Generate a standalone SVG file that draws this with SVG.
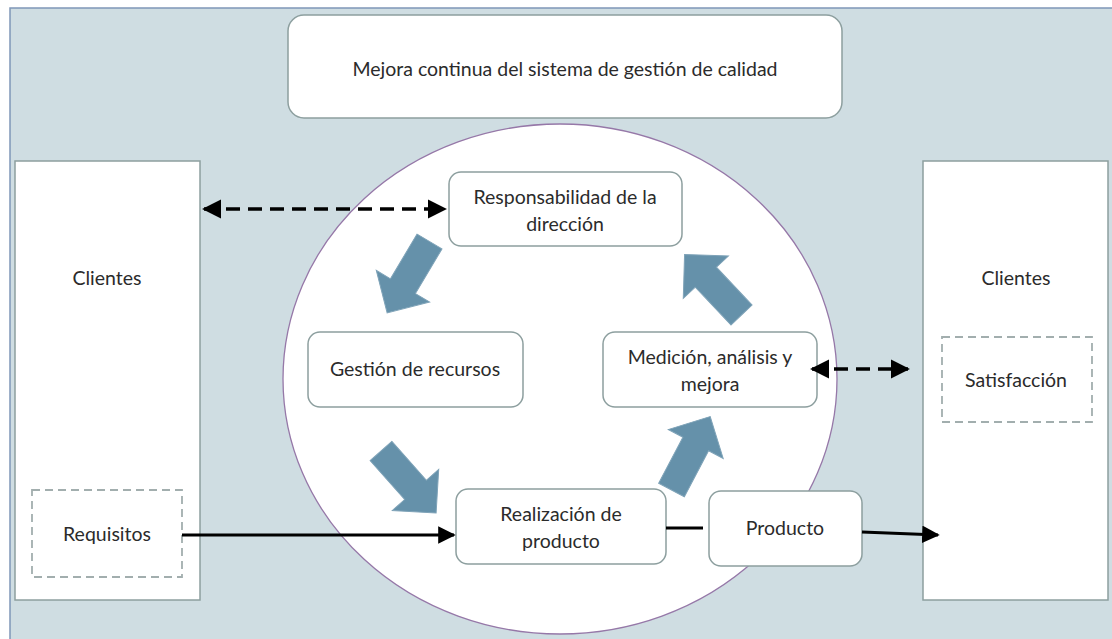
<svg xmlns="http://www.w3.org/2000/svg" width="1112" height="639" viewBox="0 0 1112 639">
<style>
.bg{fill:#cfdde2;stroke:#7f97b8;stroke-width:1.5}
.node{fill:#ffffff;stroke:#8d9f9f;stroke-width:1.5}
.side{fill:#ffffff;stroke:#8d9f9f;stroke-width:1.5}
.dash{fill:#ffffff;stroke:#a2aeae;stroke-width:1.8;stroke-dasharray:8 5}
.t{font-family:Lato,"Liberation Sans",sans-serif;font-size:19.5px;fill:#2b2b2b;text-anchor:middle}
.blk{fill:#6591aa;stroke:#7fa3b8;stroke-width:1}
.ln{fill:none;stroke:#000;stroke-width:3.2}
.dl{fill:none;stroke:#000;stroke-width:3.5;stroke-dasharray:14 8}
</style>
<defs>
<marker id="ah" viewBox="0 0 10 10" refX="9" refY="5" markerWidth="5.5" markerHeight="5.5" orient="auto-start-reverse" markerUnits="strokeWidth">
<path d="M0,0 L10,5 L0,10 Z" fill="#000"/>
</marker>
<path id="barrow" d="M0,-14.5 L52,-14.5 L52,-31 L83,0 L52,31 L52,14.5 L0,14.5 Z"/>
</defs>
<rect class="bg" x="10" y="8" width="1110" height="640"/>
<g id="mejora">
<rect class="node" x="288" y="15" width="554" height="103" rx="16"/>
<text class="t" x="565" y="76">Mejora continua del sistema de gestión de calidad</text>
</g>
<g id="circulo">
<ellipse cx="560" cy="379" rx="277" ry="255" fill="#ffffff" stroke="#9678a8" stroke-width="1.3"/>
</g>
<g id="clientes-izq">
<rect class="side" x="15" y="161" width="185" height="439"/>
<text class="t" x="107" y="285">Clientes</text>
</g>
<g id="requisitos">
<rect class="dash" x="32" y="490" width="150" height="87"/>
<text class="t" x="107" y="541">Requisitos</text>
</g>
<g id="clientes-der">
<rect class="side" x="923" y="161" width="185" height="439"/>
<text class="t" x="1016" y="285">Clientes</text>
</g>
<g id="satisfaccion">
<rect class="dash" x="942" y="337" width="150" height="85"/>
<text class="t" x="1016" y="387">Satisfacción</text>
</g>
<g id="responsabilidad">
<rect class="node" x="449" y="172" width="233" height="74" rx="12"/>
<text class="t" x="565" y="204">Responsabilidad de la</text>
<text class="t" x="565" y="231">dirección</text>
</g>
<g id="gestion">
<rect class="node" x="308" y="332" width="215" height="75" rx="12"/>
<text class="t" x="415" y="376">Gestión de recursos</text>
</g>
<g id="medicion">
<rect class="node" x="603" y="332" width="214" height="75" rx="12"/>
<text class="t" x="710" y="364">Medición, análisis y</text>
<text class="t" x="710" y="391">mejora</text>
</g>
<g id="realizacion">
<rect class="node" x="456" y="489" width="210" height="75" rx="12"/>
<text class="t" x="561" y="521">Realización de</text>
<text class="t" x="561" y="548">producto</text>
</g>
<g id="producto">
<rect class="node" x="709" y="491" width="153" height="75" rx="12"/>
<text class="t" x="785" y="535">Producto</text>
</g>
<g id="conectores">
<line class="dl" x1="204" y1="209" x2="445" y2="209" marker-start="url(#ah)" marker-end="url(#ah)"/>
<line class="dl" x1="812" y1="369" x2="908" y2="369" marker-start="url(#ah)" marker-end="url(#ah)"/>
<line class="ln" x1="182" y1="535" x2="454" y2="535" marker-end="url(#ah)"/>
<line class="ln" x1="666" y1="528" x2="703" y2="528"/>
<line class="ln" x1="862" y1="532" x2="938" y2="535" marker-end="url(#ah)"/>
<use href="#barrow" class="blk" transform="translate(429.5,241.5) rotate(120.7)"/>
<use href="#barrow" class="blk" transform="translate(381,451) rotate(48.4)"/>
<use href="#barrow" class="blk" transform="translate(671.5,490) rotate(-62.2)"/>
<use href="#barrow" class="blk" transform="translate(741.5,315) rotate(-133.3)"/>
</g>
</svg>
